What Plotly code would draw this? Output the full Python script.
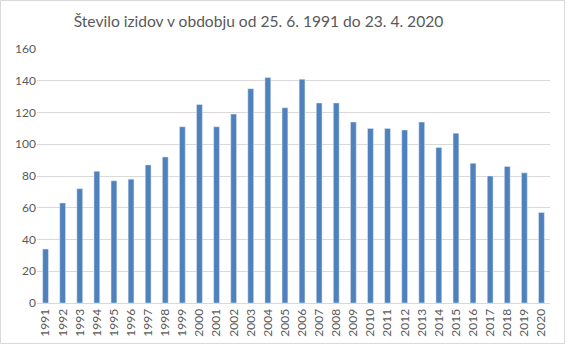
import plotly.graph_objects as go

years = [str(y) for y in range(1991, 2021)]
values = [34, 63, 72, 83, 77, 78, 87, 92, 111, 125, 111, 119, 135, 142, 123,
          141, 126, 126, 114, 110, 110, 109, 114, 98, 107, 88, 80, 86, 82, 57]
y_ticks = [0, 20, 40, 60, 80, 100, 120, 140, 160]

W, H = 568, 348
L, R, T, B = 37, 18, 49, 45
pw, ph = W - L - R, H - T - B

fig = go.Figure(go.Bar(x=years, y=values, marker_color="#4f81bd", width=0.34))

fig.update_layout(
    width=W, height=H,
    margin=dict(l=L, r=R, t=T, b=B, pad=0),
    paper_bgcolor="white", plot_bgcolor="white",
    title=dict(text="Število izidov v obdobju od 25. 6. 1991 do 23. 4. 2020",
               x=258.5 / W, xanchor="center", y=1 - 22 / H, yanchor="middle",
               font=dict(family="Lato", size=15.6, color="#595959")),
    font=dict(family="Lato", size=12, color="#595959"),
    showlegend=False,
    xaxis=dict(type="category", tickangle=-90, showgrid=False, showline=True,
               linecolor="#d9d9d9", linewidth=1, ticks="", ticklen=0,
               tickfont=dict(size=12, color="#595959")),
    yaxis=dict(range=[0, 160], tickvals=y_ticks, showgrid=True, gridcolor="#d9d9d9",
               gridwidth=1, zeroline=False, showline=False, ticks="",
               tickfont=dict(size=12, color="#595959")),
    shapes=[dict(type="rect", xref="paper", yref="paper",
                 x0=(0.5 - L) / pw, x1=(W - 3.5 - L) / pw,
                 y0=-(H - 4.5 - T - ph) / ph, y1=1 + (T - 0.5) / ph,
                 line=dict(color="#d9d9d9", width=1), layer="below")],
)

fig.write_html("out.html")
